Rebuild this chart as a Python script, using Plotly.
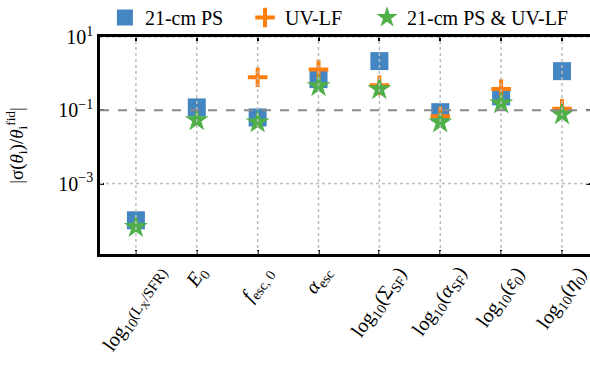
import plotly.graph_objects as go

params = ["log10(Lx/SFR)", "E0", "f_esc0", "alpha_esc", "log10(Sigma_SF)",
          "log10(alpha_SF)", "log10(eps0)", "log10(eta0)"]
tick_labels = ["log<sub>10</sub><span style='font-size:15px'>(L<sub>X</sub>/SFR)</span>",
               "<i>E</i><sub>0</sub>",
               "<i>f</i><sub>esc, 0</sub>", "<i>α</i><sub>esc</sub>",
               "log<sub>10</sub>(Σ<sub>SF</sub>)", "log<sub>10</sub>(<i>α</i><sub>SF</sub>)",
               "log<sub>10</sub>(<i>ε</i><sub>0</sub>)", "log<sub>10</sub>(<i>η</i><sub>0</sub>)"]
ps21 = [1.0e-4, 0.12, 0.064, 0.71, 2.2, 0.089, 0.24, 1.17]
uvlf = [None, None, 0.8, 1.3, 0.48, 0.069, 0.38, 0.11]
combined = [6.6e-5, 0.054, 0.047, 0.46, 0.38, 0.047, 0.155, 0.078]
fiducial_ref = 0.1
y_major = [1e-3, 1e1]
series_names = ["21-cm PS", "UV-LF", "21-cm PS & UV-LF"]

xs = list(range(len(params)))
font_family = "Liberation Serif"

fig = go.Figure()
fig.add_trace(go.Scatter(x=xs, y=ps21, mode="markers", name=series_names[0], legend="legend",
                         marker=dict(symbol="square", size=18, color="#3a7fbf", opacity=0.95)))
fig.add_trace(go.Scatter(x=xs, y=uvlf, mode="markers", name=series_names[1], legend="legend2",
                         marker=dict(symbol="cross-thin", size=14, color="#ff7f0e",
                                     line=dict(width=4, color="#ff7f0e"))))
fig.add_trace(go.Scatter(x=xs, y=combined, mode="markers", name=series_names[2], legend="legend3",
                         marker=dict(symbol="star", size=18, color="#4fb04a")))
# invisible trace for right-side ticks
fig.add_trace(go.Scatter(x=[xs[0]], y=[ps21[1]], yaxis="y2", mode="markers",
                         marker=dict(opacity=0), showlegend=False, hoverinfo="skip"))

shapes = []
for x in xs:
    shapes.append(dict(type="line", xref="x", yref="paper", x0=x, x1=x, y0=0, y1=1,
                       line=dict(color="#bdbdbd", width=1.5, dash="dot"), layer="above"))
for yv in y_major:
    shapes.append(dict(type="line", xref="paper", yref="y", x0=0, x1=1, y0=yv, y1=yv,
                       line=dict(color="#bdbdbd", width=1.5, dash="dot"), layer="above"))
shapes.append(dict(type="line", xref="paper", yref="y", x0=0, x1=1, y0=fiducial_ref, y1=fiducial_ref,
                   line=dict(color="#8a8a8a", width=2, dash="dash"), layer="above"))

annotations = []
for x, lab in zip(xs, tick_labels):
    annotations.append(dict(x=x, xref="x", y=-0.025, yref="paper", text=lab, showarrow=False,
                            textangle=-55, xanchor="center", yanchor="top",
                            font=dict(size=20)))

leg_common = dict(orientation="h", y=1.0, yanchor="bottom", xanchor="left",
                  font=dict(size=20), itemsizing="trace", bgcolor="rgba(0,0,0,0)")

fig.update_layout(
    width=590, height=365, autosize=False,
    margin=dict(l=100, r=0, t=37, b=111, autoexpand=False),
    plot_bgcolor="white", paper_bgcolor="white",
    font=dict(family=font_family, size=19, color="black"),
    shapes=shapes, annotations=annotations,
    showlegend=True,
    legend=dict(x=0.010, **leg_common),
    legend2=dict(x=0.296, **leg_common),
    legend3=dict(x=0.545, **leg_common),
    xaxis=dict(range=[-0.59, 7.46], tickmode="array", tickvals=xs, showticklabels=False,
               showgrid=False, zeroline=False, showline=True,
               linecolor="black", linewidth=2.5, mirror="ticks", ticks="inside",
               ticklen=4, tickwidth=2, tickcolor="black"),
    yaxis=dict(type="log", range=[-4.92, 1.0], tickmode="array",
               tickvals=[1e-3, 1e-1, 1e1], ticktext=["10<sup>−3</sup>", "10<sup>−1</sup>", "10<sup>1</sup>"],
               showgrid=False, zeroline=False, showline=True, linecolor="black", linewidth=2.5,
               ticks="inside", ticklen=4, tickwidth=2, tickcolor="black", tickfont=dict(size=20),
               title=dict(text="|σ(<i>θ</i><sub>i</sub>)/<i>θ</i><sub>i</sub><sup>fid</sup>|",
                          font=dict(size=19), standoff=30)),
    yaxis2=dict(type="log", range=[-4.92, 1.0], overlaying="y", side="right",
                tickmode="array", tickvals=[1e-3, 1e-1, 1e1], showticklabels=False,
                showgrid=False, zeroline=False, showline=False, ticks="inside",
                ticklen=4, tickwidth=2, tickcolor="black"),
)

fig.write_html("out.html", config={"displayModeBar": False},
               post_script="document.body.style.margin='0';document.body.style.overflow='hidden';")
